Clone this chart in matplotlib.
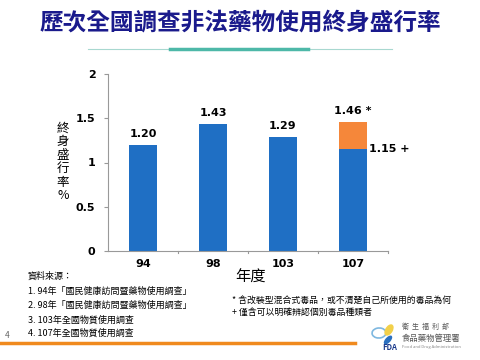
import matplotlib
matplotlib.use("Agg")
import matplotlib.pyplot as plt
from matplotlib.lines import Line2D
from matplotlib.patches import Ellipse

plt.rcParams['font.family'] = ['Noto Sans CJK TC', 'DejaVu Sans']

categories = ['94', '98', '103', '107']
base_values = [1.20, 1.43, 1.29, 1.15]
extra_values = [0, 0, 0, 0.31]
labels = ['1.20', '1.43', '1.29']
total_label = '1.46'
y_ticks = [0, 0.5, 1, 1.5, 2]
y_tick_labels = ['0', '0.5', '1', '1.5', '2']
sources = ['資料來源：',
           '1. 94年「國民健康訪問暨藥物使用調查」',
           '2. 98年「國民健康訪問暨藥物使用調查」',
           '3. 103年全國物質使用調查',
           '4. 107年全國物質使用調查']
notes = ['* 含改裝型混合式毒品，或不清楚自己所使用的毒品為何',
         '+ 僅含可以明確辨認個別毒品種類者']

blue = '#1F6FC4'
orange = '#F5873A'

fig = plt.figure(figsize=(4.8, 3.6), dpi=100)
ax = fig.add_axes([108/480, 1-251/360, 280/480, 177/360])

x = list(range(len(categories)))
ax.bar(x, base_values, width=0.4, color=blue, zorder=2)
ax.bar(x, extra_values, width=0.4, bottom=base_values, color=orange, zorder=2)

for i, lab in enumerate(labels):
    ax.text(x[i], base_values[i] + 0.07, lab, ha='center', va='bottom',
            fontsize=8, fontweight='bold', family='DejaVu Sans')
ax.text(x[3], base_values[3] + extra_values[3] + 0.07, total_label + ' *',
        ha='center', va='bottom', fontsize=8, fontweight='bold', family='DejaVu Sans')
ax.text(x[3] + 0.23, base_values[3], '1.15 +', ha='left', va='center',
        fontsize=8, fontweight='bold', family='DejaVu Sans')

ax.set_xlim(-0.5, 3.5)
ax.set_ylim(0, 2)
ax.set_yticks(y_ticks)
ax.set_yticklabels(y_tick_labels, fontsize=8, fontweight='bold', family='DejaVu Sans')
ax.set_xticks(x)
ax.set_xticklabels(categories, fontsize=8, fontweight='bold', family='DejaVu Sans')
ax.tick_params(axis='x', length=0, pad=6)
ax.tick_params(axis='y', length=3, color='#999999', pad=6)
for b in [0.5, 1.5, 2.5, 3.5]:
    ax.plot([b, b], [0, -0.025], color='#999999', lw=0.8, clip_on=False)
for s in ['top', 'right']:
    ax.spines[s].set_visible(False)
ax.spines['left'].set_color('#999999')
ax.spines['bottom'].set_color('#999999')

# vertical y label
fig.text(63/480, 1-162/360, '終\n身\n盛\n行\n率\n%', ha='center', va='center',
         fontsize=9, linespacing=1.05)

fig.text(250/480, 1-277/360, '年度', ha='center', va='center', fontsize=11)

# title
fig.text(240/480, 1-23/360, '歷次全國調查非法藥物使用終身盛行率', ha='center', va='center',
         fontsize=17, fontweight='bold', color='#1A1A8C')
fig.add_artist(Line2D([88/480, 392/480], [1-49/360]*2, color='#A8D8D0', lw=0.8))
fig.add_artist(Line2D([170/480, 308/480], [1-49/360]*2, color='#4DB8A8', lw=2.5))

# sources
ys = [276, 291, 305, 320, 333]
for t, yy in zip(sources, ys):
    fig.text(28/480, 1-yy/360, t, ha='left', va='center', fontsize=6.5)
fig.text(232/480, 1-300/360, notes[0], ha='left', va='center', fontsize=6.4)
fig.text(232/480, 1-312/360, notes[1], ha='left', va='center', fontsize=6.4)

fig.text(5/480, 1-336/360, '4', ha='left', va='center', fontsize=6, color='#666666')
fig.add_artist(Line2D([0, 355/480], [1-343/360]*2, color='#F08A1E', lw=2.5))

# logo
fig.add_artist(Ellipse((379/480, 1-333/360), 14/480, 10/360, angle=20,
                       fill=False, ec='#7FB8E0', lw=1.2))
fig.add_artist(Ellipse((389/480, 1-330/360), 8/480, 12/360, angle=-20,
                       fc='#F2D04A', ec='none'))
fig.add_artist(Ellipse((388/480, 1-340/360), 6/480, 10/360, angle=-30,
                       fc='#2A6FC0', ec='none'))
fig.text(390/480, 1-348/360, 'FDA', ha='center', va='center', fontsize=5.5,
         fontweight='bold', color='#1A3A8C')
fig.text(402/480, 1-327/360, '衛  生  福  利  部', ha='left', va='center', fontsize=5, color='#555555')
fig.text(402/480, 1-338/360, '食品藥物管理署', ha='left', va='center', fontsize=6, color='#555555')
fig.text(402/480, 1-347/360, 'Food and Drug Administration', ha='left', va='center', fontsize=3, color='#888888')

fig.savefig('out.png', dpi=100)
